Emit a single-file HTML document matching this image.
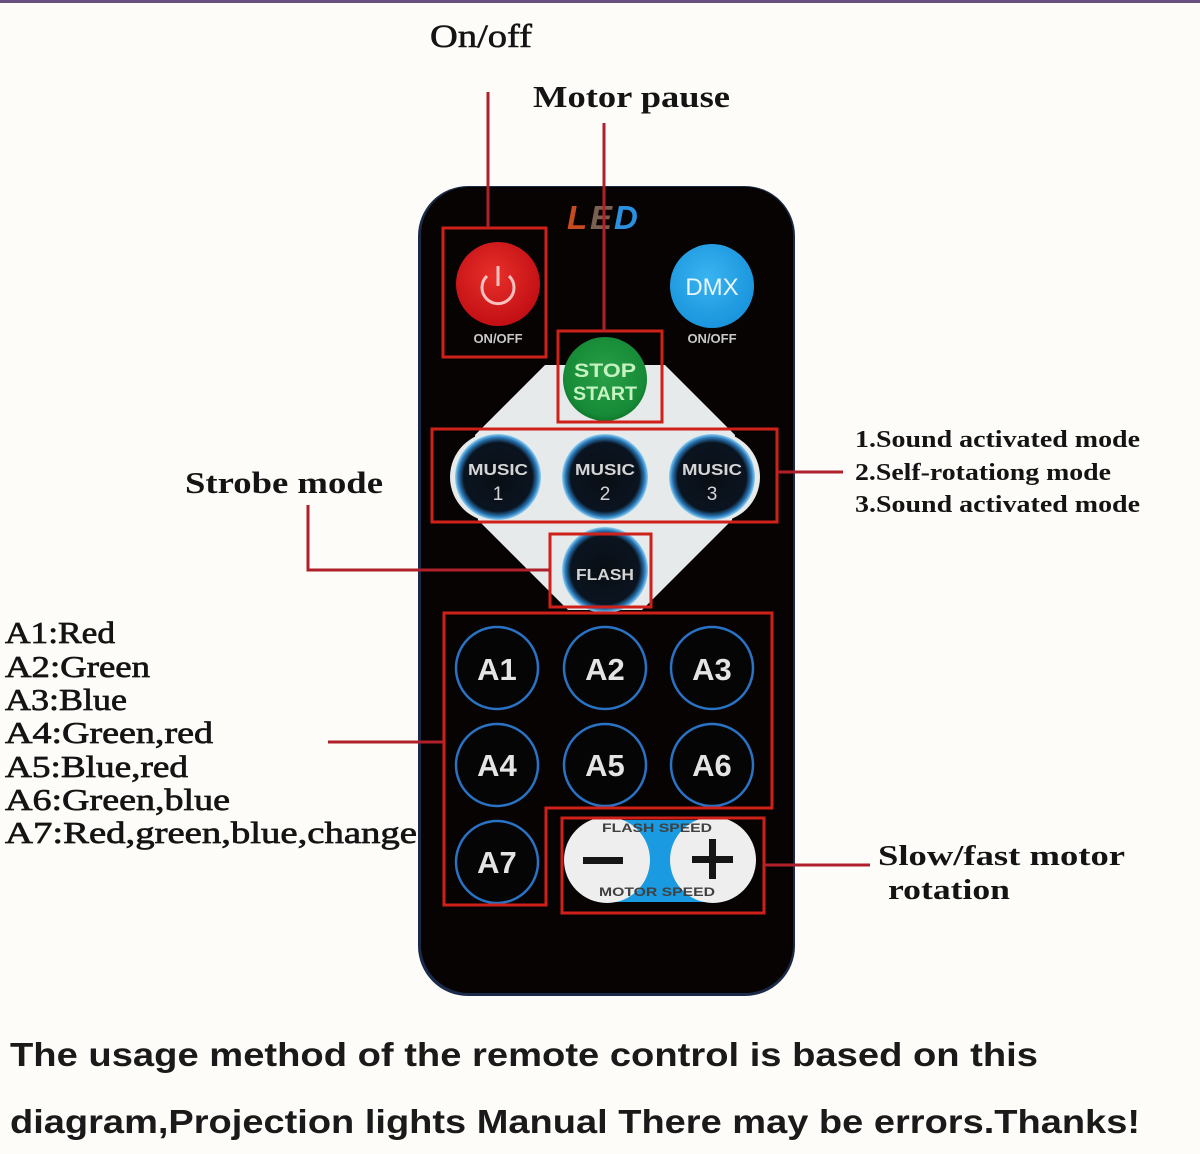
<!DOCTYPE html>
<html><head><meta charset="utf-8"><style>
html,body{margin:0;padding:0;background:#fefcf8;}
svg{display:block;}
</style></head><body>
<svg width="1200" height="1154" viewBox="0 0 1200 1154" xmlns="http://www.w3.org/2000/svg">
<defs>
<radialGradient id="redg" cx="0.45" cy="0.4" r="0.6"><stop offset="0" stop-color="#e8302a"/><stop offset="1" stop-color="#c20f14"/></radialGradient>
<radialGradient id="blueg" cx="0.45" cy="0.4" r="0.6"><stop offset="0" stop-color="#3ab4f0"/><stop offset="1" stop-color="#1a94dc"/></radialGradient>
<radialGradient id="greeng" cx="0.5" cy="0.45" r="0.6"><stop offset="0" stop-color="#2aa048"/><stop offset="0.8" stop-color="#168a36"/><stop offset="1" stop-color="#0e6a28"/></radialGradient>
<radialGradient id="darkg" cx="0.5" cy="0.5" r="0.5"><stop offset="0" stop-color="#0a0e14"/><stop offset="0.8" stop-color="#0a1420"/><stop offset="0.92" stop-color="#2a78b8"/><stop offset="1" stop-color="#8cd0f4"/></radialGradient>
</defs>
<rect width="1200" height="1154" fill="#fefcf8"/>
<rect x="0" y="0" width="1200" height="3" fill="#6a5080"/>

<!-- remote body -->
<rect x="418" y="186" width="377" height="810" rx="50" fill="#1a2a48"/>
<rect x="421" y="187" width="372" height="806" rx="48" fill="#070303"/>

<!-- LED -->
<g font-family="Liberation Sans, sans-serif" font-weight="bold" font-style="italic" font-size="33">
<text x="567" y="229" fill="#c84a20">L</text>
<text x="590" y="229" fill="#7a6050">E</text>
<text x="614" y="229" fill="#2a90e0">D</text>
</g>

<!-- power button -->
<circle cx="498" cy="284" r="42" fill="url(#redg)"/>
<path d="M 487 276 A 16 16 0 1 0 509 276" fill="none" stroke="#ffc0c0" stroke-width="3"/>
<line x1="498" y1="266" x2="498" y2="286" stroke="#ffc0c0" stroke-width="3"/>
<text x="498" y="343" text-anchor="middle" font-family="Liberation Sans, sans-serif" font-weight="bold" font-size="13" fill="#c8c8c8">ON/OFF</text>

<!-- DMX -->
<circle cx="712" cy="286" r="42" fill="url(#blueg)"/>
<text x="712" y="295" text-anchor="middle" font-family="Liberation Sans, sans-serif" font-size="24" fill="#e8f6ff">DMX</text>
<text x="712" y="343" text-anchor="middle" font-family="Liberation Sans, sans-serif" font-weight="bold" font-size="13" fill="#c8c8c8">ON/OFF</text>

<!-- white diamond -->
<polygon points="545,365 665,365 735,435 732,520 642,610 568,610 478,520 475,435" fill="#e6eaea"/>
<rect x="450" y="432" width="310" height="90" rx="45" fill="#e6eaea"/>

<!-- stop start -->
<circle cx="605" cy="379" r="42" fill="url(#greeng)"/>
<g font-family="Liberation Sans, sans-serif" font-weight="bold" font-size="19" fill="#c4f2c0" text-anchor="middle">
<text x="605" y="377" textLength="62" lengthAdjust="spacingAndGlyphs">STOP</text>
<text x="605" y="400" textLength="64" lengthAdjust="spacingAndGlyphs">START</text>
</g>

<!-- music buttons -->
<g font-family="Liberation Sans, sans-serif" font-weight="bold" fill="#d4d4d4" text-anchor="middle">
<circle cx="498" cy="477" r="43" fill="url(#darkg)"/>
<circle cx="605" cy="477" r="43" fill="url(#darkg)"/>
<circle cx="712" cy="477" r="43" fill="url(#darkg)"/>
<text x="498" y="475" font-size="16" textLength="60" lengthAdjust="spacingAndGlyphs">MUSIC</text>
<text x="605" y="475" font-size="16" textLength="60" lengthAdjust="spacingAndGlyphs">MUSIC</text>
<text x="712" y="475" font-size="16" textLength="60" lengthAdjust="spacingAndGlyphs">MUSIC</text>
<text x="498" y="500" font-size="19" font-weight="normal">1</text>
<text x="605" y="500" font-size="19" font-weight="normal">2</text>
<text x="712" y="500" font-size="19" font-weight="normal">3</text>
<circle cx="605" cy="570" r="43" fill="url(#darkg)"/>
<text x="605" y="580" font-size="16" textLength="58" lengthAdjust="spacingAndGlyphs">FLASH</text>
</g>

<!-- A buttons -->
<g fill="#050505" stroke="#2a72c4" stroke-width="2.5">
<circle cx="497" cy="668" r="41"/>
<circle cx="605" cy="668" r="41"/>
<circle cx="712" cy="668" r="41"/>
<circle cx="497" cy="765" r="41"/>
<circle cx="605" cy="765" r="41"/>
<circle cx="712" cy="765" r="41"/>
<circle cx="497" cy="862" r="41"/>
</g>
<g font-family="Liberation Sans, sans-serif" font-weight="bold" font-size="31" fill="#e4e4e4" text-anchor="middle">
<text x="497" y="680">A1</text>
<text x="605" y="680">A2</text>
<text x="712" y="680">A3</text>
<text x="497" y="776">A4</text>
<text x="605" y="776">A5</text>
<text x="712" y="776">A6</text>
<text x="497" y="873">A7</text>
</g>

<!-- speed -->
<rect x="565" y="820" width="190" height="82" rx="41" fill="#1a9ae0"/>
<circle cx="607" cy="860" r="43" fill="#eeeeee"/>
<circle cx="713" cy="860" r="43" fill="#eeeeee"/>
<rect x="583" y="857" width="40" height="7" fill="#151515"/>
<rect x="692" y="856" width="41" height="7" fill="#151515"/>
<rect x="709" y="839" width="7" height="40" fill="#151515"/>
<g font-family="Liberation Sans, sans-serif" font-weight="bold" font-size="12" fill="#404040" text-anchor="middle">
<text x="657" y="832" textLength="110" lengthAdjust="spacingAndGlyphs">FLASH SPEED</text>
<text x="657" y="896" textLength="116" lengthAdjust="spacingAndGlyphs">MOTOR SPEED</text>
</g>

<!-- red boxes -->
<g fill="none" stroke="#d0201a" stroke-width="3">
<rect x="443" y="228" width="103" height="129"/>
<rect x="558" y="331" width="104" height="91"/>
<rect x="432" y="429" width="345" height="93"/>
<rect x="550" y="534" width="101" height="73"/>
<polygon points="444,613 772,613 772,808 546,808 546,905 444,905"/>
<rect x="562" y="818" width="202" height="95"/>
</g>

<!-- connectors -->
<g fill="none" stroke="#b0202a" stroke-width="3">
<line x1="488" y1="92" x2="488" y2="228"/>
<line x1="604" y1="123" x2="604" y2="331"/>
<polyline points="308,505 308,570 550,570"/>
<line x1="777" y1="472" x2="843" y2="472"/>
<line x1="328" y1="742" x2="444" y2="742"/>
<line x1="764" y1="865" x2="870" y2="865"/>
</g>

<!-- labels -->
<g font-family="Liberation Serif, serif" fill="#141414">
<text x="430" y="47" font-size="33" stroke="#141414" stroke-width="0.6" textLength="102" lengthAdjust="spacingAndGlyphs">On/off</text>
<text x="533" y="107" font-size="31" font-weight="bold" textLength="197" lengthAdjust="spacingAndGlyphs">Motor pause</text>
<text x="185" y="493" font-size="31" font-weight="bold" textLength="198" lengthAdjust="spacingAndGlyphs">Strobe mode</text>
<text x="855" y="447" font-size="24" font-weight="bold" textLength="285" lengthAdjust="spacingAndGlyphs">1.Sound activated mode</text>
<text x="855" y="480" font-size="24" font-weight="bold" textLength="256" lengthAdjust="spacingAndGlyphs">2.Self-rotationg mode</text>
<text x="855" y="512" font-size="24" font-weight="bold" textLength="285" lengthAdjust="spacingAndGlyphs">3.Sound activated mode</text>
<text x="878" y="865" font-size="29" font-weight="bold" textLength="247" lengthAdjust="spacingAndGlyphs">Slow/fast motor</text>
<text x="888" y="899" font-size="29" font-weight="bold" textLength="122" lengthAdjust="spacingAndGlyphs">rotation</text>
<g font-size="31" stroke="#141414" stroke-width="0.7">
<text x="5" y="643" textLength="110" lengthAdjust="spacingAndGlyphs">A1:Red</text>
<text x="5" y="677" textLength="145" lengthAdjust="spacingAndGlyphs">A2:Green</text>
<text x="5" y="710" textLength="122" lengthAdjust="spacingAndGlyphs">A3:Blue</text>
<text x="5" y="743" textLength="208" lengthAdjust="spacingAndGlyphs">A4:Green,red</text>
<text x="5" y="777" textLength="183" lengthAdjust="spacingAndGlyphs">A5:Blue,red</text>
<text x="5" y="810" textLength="225" lengthAdjust="spacingAndGlyphs">A6:Green,blue</text>
<text x="5" y="843" textLength="412" lengthAdjust="spacingAndGlyphs">A7:Red,green,blue,change</text>
</g>
</g>

<!-- bottom text -->
<g font-family="Liberation Sans, sans-serif" font-weight="bold" font-size="33" fill="#1a1a1a">
<text x="10" y="1066" textLength="1028" lengthAdjust="spacingAndGlyphs">The usage method of the remote control is based on this</text>
<text x="10" y="1133" textLength="1130" lengthAdjust="spacingAndGlyphs">diagram,Projection lights Manual There may be errors.Thanks!</text>
</g>
</svg>
</body></html>
